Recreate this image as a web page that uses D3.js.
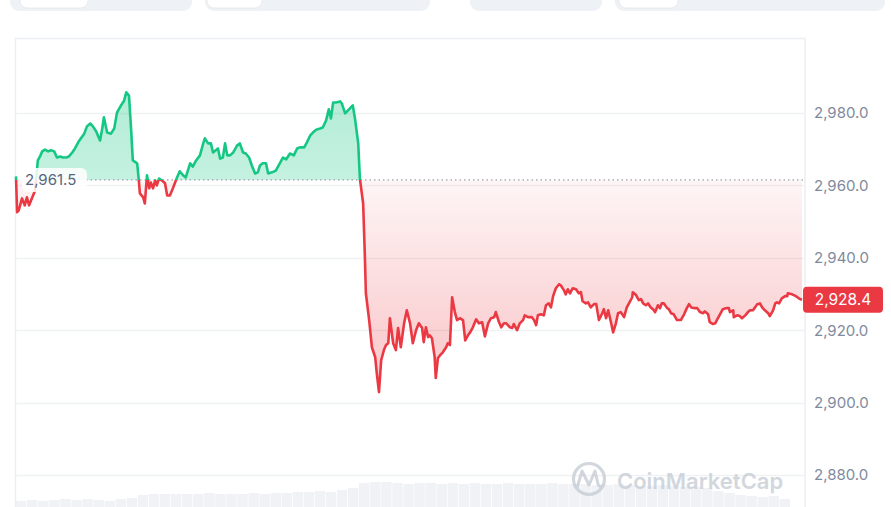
<!DOCTYPE html>
<html><head><meta charset="utf-8">
<script src="https://cdn.jsdelivr.net/npm/d3@7"></script>
<style>html,body{margin:0;padding:0;background:#fff;}svg{display:block;font-family:Inter,"Noto Sans",sans-serif;}</style>
</head><body><svg id="c" width="891" height="507"></svg>
<script>
// minutes since start of the 24h window
const times = [0,2,5,11,16,20,24,29,35,40,44,48,53,59,64,70,75,81,86,92,97,103,108,114,119,125,130,136,141,147,150,154,158,161,167,174,180,185,192,198,202,207,211,214,222,225,227,233,236,240,244,247,251,255,258,262,267,273,277,282,288,295,300,306,311,319,324,330,337,343,346,352,357,361,366,370,374,379,383,387,392,398,405,410,416,421,427,432,438,443,447,452,458,462,469,476,484,489,495,502,509,515,520,528,533,539,544,550,557,562,568,573,577,581,586,594,597,603,610,617,621,627,630,636,639,641,647,652,658,661,665,669,674,678,682,685,691,696,700,705,711,716,722,727,733,738,744,747,751,755,758,762,767,769,773,777,782,788,791,795,799,804,808,813,819,823,828,832,837,843,848,854,859,865,870,876,879,885,889,894,898,905,909,912,918,923,929,932,938,945,949,953,956,962,967,971,976,980,984,989,995,998,1004,1007,1011,1015,1020,1026,1031,1035,1038,1044,1048,1053,1059,1063,1068,1074,1077,1081,1085,1090,1094,1099,1103,1108,1114,1119,1123,1129,1130,1136,1141,1145,1149,1154,1158,1163,1167,1171,1176,1180,1183,1187,1193,1196,1200,1205,1211,1218,1224,1229,1233,1237,1242,1248,1253,1259,1262,1268,1271,1277,1281,1284,1288,1292,1295,1301,1306,1308,1314,1315,1321,1326,1330,1336,1341,1345,1350,1354,1358,1363,1367,1372,1378,1381,1387,1391,1394,1398,1403,1409,1413,1414,1422,1429,1436,1440];
const prices = [2962.5,2952.6,2953.1,2956.4,2954.5,2956.7,2954.5,2956.4,2958.6,2966.9,2968.0,2969.4,2969.9,2969.4,2969.7,2969.4,2967.7,2968.0,2967.7,2967.7,2968.0,2969.1,2970.2,2971.9,2973.0,2974.3,2976.3,2977.1,2976.3,2974.9,2973.8,2972.4,2975.7,2978.8,2974.6,2974.3,2975.7,2980.1,2982.0,2983.4,2985.7,2984.8,2975.2,2966.9,2966.1,2961.4,2957.8,2956.7,2955.0,2962.8,2959.2,2960.8,2959.2,2961.4,2960.0,2961.9,2961.4,2960.6,2957.2,2957.2,2959.4,2962.2,2963.9,2962.8,2962.2,2966.1,2965.2,2966.9,2968.3,2971.6,2973.0,2971.6,2971.6,2969.1,2969.7,2970.2,2967.4,2967.7,2971.6,2968.3,2968.3,2969.1,2971.0,2971.6,2969.1,2968.8,2967.7,2965.5,2963.3,2963.6,2965.5,2966.1,2966.1,2963.3,2963.6,2964.1,2966.3,2967.7,2967.2,2968.8,2968.3,2970.2,2970.5,2970.5,2971.9,2973.8,2974.6,2975.4,2975.7,2976.0,2977.9,2981.0,2978.5,2982.9,2982.9,2983.2,2982.6,2979.9,2981.0,2982.1,2978.5,2971.6,2961.9,2955.0,2941.2,2930.2,2922.8,2915.3,2912.6,2908.1,2902.9,2911.7,2914.5,2915.9,2916.4,2923.3,2916.4,2914.5,2920.6,2915.3,2921.9,2925.5,2921.9,2916.4,2920.0,2921.9,2920.6,2916.7,2920.8,2918.1,2918.6,2917.8,2912.6,2906.8,2912.3,2913.1,2913.9,2915.3,2916.4,2915.9,2929.1,2925.0,2922.8,2923.3,2922.8,2917.2,2918.6,2919.4,2920.8,2923.0,2921.9,2922.2,2918.3,2921.9,2923.3,2923.6,2925.0,2922.2,2920.8,2921.9,2921.9,2920.8,2920.6,2921.7,2920.0,2921.9,2922.8,2924.1,2923.6,2923.6,2922.8,2921.4,2924.1,2924.4,2924.1,2926.9,2927.4,2926.3,2929.4,2931.6,2932.7,2932.4,2931.0,2929.9,2931.3,2930.2,2931.6,2931.3,2930.2,2930.5,2928.0,2927.4,2927.7,2926.3,2927.2,2927.2,2922.8,2924.7,2925.8,2923.3,2925.5,2922.2,2919.4,2921.9,2924.7,2925.0,2923.6,2926.3,2927.4,2929.1,2930.5,2929.7,2928.3,2928.6,2927.4,2926.9,2927.4,2926.3,2925.8,2925.0,2926.9,2926.1,2927.4,2927.4,2926.1,2925.8,2924.7,2924.4,2922.8,2922.8,2924.4,2926.1,2927.2,2926.3,2926.1,2926.1,2925.0,2924.7,2925.2,2924.4,2922.2,2921.7,2921.9,2922.8,2923.9,2925.0,2925.8,2926.1,2926.1,2925.0,2925.5,2923.6,2924.1,2923.9,2923.3,2924.1,2925.0,2925.5,2925.5,2926.3,2927.2,2927.4,2926.3,2925.5,2924.7,2923.9,2925.5,2927.4,2927.7,2927.4,2928.8,2929.4,2929.4,2930.2,2929.9,2929.4,2928.6,2928.4];
const openPrice = 2961.5;
const lastPrice = 2928.4;
const yTicks = [2880, 2900, 2920, 2940, 2960, 2980];
const volumes = [7,8,7,8,9,8,9,8,7,9,10,13,14,14,14,14,14,15,14,14,14,15,14,15,15,16,16,17,16,18,20,25,26,26,25,24,25,25,24,25,24,25,24,24,25,24,24,24,25,24,24,24,23,23,24,23,22,22,23,22,21,21,20,17,15,13,12,11,12,9];

const W = 891, H = 507;
const plotL = 16, plotR = 805;
const svg = d3.select('#c');
const fmt = d3.format(',.1f');

const x = d3.scaleLinear().domain([0, 1440]).range([plotL, 802]);
const y = d3.scaleLinear().domain([2880, 2980]).range([475, 113]);
const by = y(openPrice);

// top UI pills
const pills = [[10,192,20,88],[205,430,207,262],[470,602,null,null],[615,885,619,678]];
pills.forEach(p => {
  svg.append('rect').attr('x', p[0]).attr('y', -20).attr('width', p[1]-p[0]).attr('height', 31).attr('rx', 9).attr('fill', '#eef1f5');
  if (p[2] !== null) svg.append('rect').attr('x', p[2]).attr('y', -20).attr('width', p[3]-p[2]).attr('height', 28).attr('rx', 7).attr('fill', '#fff').attr('stroke','#e3e6ea').attr('stroke-width',0.8);
});

// frame
svg.append('rect').attr('x', 15.5).attr('y', 38.5).attr('width', 789.5).attr('height', 500).attr('fill', 'none').attr('stroke', '#eceef1').attr('stroke-width', 1.5);

// gridlines
svg.append('g').selectAll('line').data(yTicks).join('line')
  .attr('x1', plotL).attr('x2', plotR).attr('y1', d => Math.round(y(d)) + 0.5).attr('y2', d => Math.round(y(d)) + 0.5)
  .attr('stroke', '#eff1f4').attr('stroke-width', 1.5);

// axis
const axis = d3.axisRight(y).tickValues(yTicks).tickFormat(fmt).tickSize(0).tickPadding(0);
const ax = svg.append('g').attr('transform', `translate(814,0)`).call(axis);
ax.select('.domain').remove();
ax.selectAll('text').attr('fill', '#808a9d').style('font-size', '15px').style('font-family', 'Inter, sans-serif');

// volume bars
const xb = d3.scaleBand().domain(d3.range(volumes.length)).range([16, 790]).paddingInner(0.06);
const yv = d3.scaleLinear().domain([0, 30]).range([508, 478]);
svg.append('g').selectAll('rect').data(volumes).join('rect')
  .attr('x', (d, i) => xb(i)).attr('width', xb.bandwidth())
  .attr('y', d => yv(d)).attr('height', d => 508 - yv(d))
  .attr('fill', '#f0f2f5');

// gradients
const defs = svg.append('defs');
const gG = defs.append('linearGradient').attr('id', 'gG').attr('gradientUnits', 'userSpaceOnUse').attr('x1', 0).attr('x2', 0).attr('y1', 90).attr('y2', by);
gG.append('stop').attr('offset', 0).attr('stop-color', '#16c784').attr('stop-opacity', 0.33);
gG.append('stop').attr('offset', 1).attr('stop-color', '#16c784').attr('stop-opacity', 0.25);
const gR = defs.append('linearGradient').attr('id', 'gR').attr('gradientUnits', 'userSpaceOnUse').attr('x1', 0).attr('x2', 0).attr('y1', by).attr('y2', 340);
gR.append('stop').attr('offset', 0).attr('stop-color', '#ea3943').attr('stop-opacity', 0.05);
gR.append('stop').attr('offset', 1).attr('stop-color', '#ea3943').attr('stop-opacity', 0.24);
defs.append('clipPath').attr('id', 'above').append('rect').attr('x', 0).attr('y', 0).attr('width', W).attr('height', by);
defs.append('clipPath').attr('id', 'below').append('rect').attr('x', 0).attr('y', by).attr('width', W).attr('height', H - by);

const pts = times.map((t, i) => [t, prices[i]]);
const area = d3.area().x(d => x(d[0])).y0(by).y1(d => y(d[1]));
const line = d3.line().x(d => x(d[0])).y(d => y(d[1]));

svg.append('path').datum(pts).attr('d', area).attr('fill', 'url(#gG)').attr('clip-path', 'url(#above)');
svg.append('path').datum(pts).attr('d', area).attr('fill', 'url(#gR)').attr('clip-path', 'url(#below)');

// baseline dotted
svg.append('line').attr('x1', 86).attr('x2', plotR).attr('y1', by).attr('y2', by)
  .attr('stroke', '#9aa2ae').attr('stroke-width', 1.2).attr('stroke-dasharray', '1.5,3');

svg.append('path').datum(pts).attr('d', line).attr('fill', 'none').attr('stroke', '#16c784').attr('stroke-width', 2.6).attr('stroke-linejoin', 'round').attr('clip-path', 'url(#above)');
svg.append('path').datum(pts).attr('d', line).attr('fill', 'none').attr('stroke', '#ea3943').attr('stroke-width', 2.6).attr('stroke-linejoin', 'round').attr('clip-path', 'url(#below)');

// open price label
svg.append('rect').attr('x', 22).attr('y', by - 12).attr('width', 65).attr('height', 24).attr('rx', 6).attr('fill', '#ffffff').attr('fill-opacity', 0.85);
svg.append('text').attr('x', 25).attr('y', by).attr('dy', '0.35em').attr('fill', '#58667e').style('font-size', '15px').text(fmt(openPrice));

// last price tag
const ly = y(lastPrice);
svg.append('rect').attr('x', 803).attr('y', ly - 13).attr('width', 80).attr('height', 26).attr('rx', 4).attr('fill', '#ea3943');
svg.append('text').attr('x', 843).attr('y', ly).attr('dy', '0.35em').attr('text-anchor', 'middle').attr('fill', '#fff').style('font-size', '15.5px').text(fmt(lastPrice));

// watermark
const wm = svg.append('g').attr('opacity', 0.75);
wm.append('circle').attr('cx', 589).attr('cy', 479).attr('r', 15.5).attr('fill', 'none').attr('stroke', '#c3cad4').attr('stroke-width', 3.2);
wm.append('path').attr('d', 'M577,488 L582,471 L589,485 L595,471 L598,484 Q600,489 604,484')
  .attr('fill', 'none').attr('stroke', '#c3cad4').attr('stroke-width', 3).attr('stroke-linejoin', 'round').attr('stroke-linecap', 'round');
wm.append('text').attr('x', 617).attr('y', 489).attr('fill', '#c3cad4').style('font-size', '22px').style('font-weight', 600).text('CoinMarketCap');
</script></body></html>
